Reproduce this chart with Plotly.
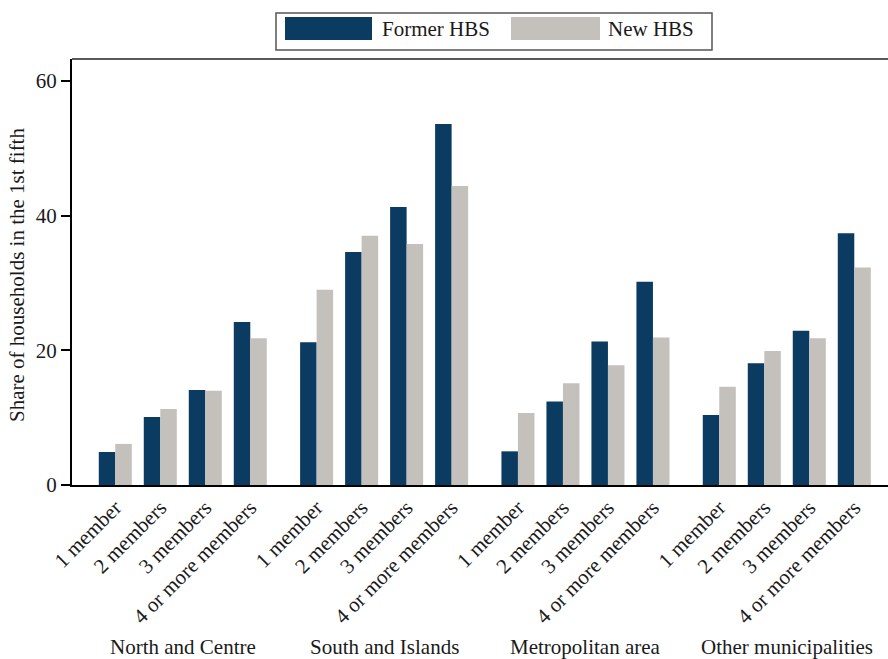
import plotly.graph_objects as go

# Share of households in the 1st fifth, by household size and area
regions = ["North and Centre", "South and Islands", "Metropolitan area", "Other municipalities"]
sizes = ["1 member", "2 members", "3 members", "4 or more members"]

former_north = [4.9, 10.1, 14.1, 24.2]
former_south = [21.2, 34.6, 41.3, 53.6]
former_metro = [5.0, 12.4, 21.3, 30.2]
former_other = [10.4, 18.1, 22.9, 37.4]

new_north = [6.1, 11.3, 14.0, 21.8]
new_south = [29.0, 37.0, 35.8, 44.4]
new_metro = [10.7, 15.1, 17.8, 21.9]
new_other = [14.6, 19.9, 21.8, 32.3]

y_ticks = [0, 20, 40, 60]

former_hbs = former_north + former_south + former_metro + former_other
new_hbs = new_north + new_south + new_metro + new_other

# ---- layout geometry ----
W, H = 888, 659
PLOT_L, PLOT_R, PLOT_T, PLOT_B = 72, 888, 59, 485
GROUP_GAP = 0.474      # extra space between regions (in pair units)
BAR_W = 0.367          # width of each bar (pair step = 1)
DARK = "#0b3b60"
GREY = "#c4c0bc"
FONT = "Liberation Serif"


def fx(px):
    return (px - PLOT_L) / (PLOT_R - PLOT_L)


def fy(py):
    return (PLOT_B - py) / (PLOT_B - PLOT_T)


positions = []
tick_text = []
for g, _ in enumerate(regions):
    for p, s in enumerate(sizes):
        positions.append(g * (len(sizes) + GROUP_GAP) + p)
        tick_text.append(s)

group_centres = [
    g * (len(sizes) + GROUP_GAP) + (len(sizes) - 1) / 2 for g in range(len(regions))
]

fig = go.Figure()
fig.add_trace(go.Bar(
    x=positions, y=former_hbs, name="Former HBS",
    width=BAR_W, offset=-BAR_W,
    marker=dict(color=DARK, line=dict(width=0)),
))
fig.add_trace(go.Bar(
    x=positions, y=new_hbs, name="New HBS",
    width=BAR_W, offset=0,
    marker=dict(color=GREY, line=dict(width=0)),
))

x_lo = -0.962
x_hi = x_lo + (PLOT_R - PLOT_L) / 45.0
y_hi = 60 * (PLOT_B - PLOT_T) / (PLOT_B - 81)

fig.update_layout(
    width=W, height=H,
    margin=dict(l=PLOT_L, r=W - PLOT_R, t=PLOT_T, b=H - PLOT_B, pad=0),
    paper_bgcolor="white", plot_bgcolor="white",
    barmode="overlay",
    showlegend=False,
    font=dict(family=FONT, size=21, color="#1a1a1a"),
    xaxis=dict(
        range=[x_lo, x_hi],
        tickmode="array", tickvals=positions, ticktext=tick_text,
        tickangle=-45, ticks="", showgrid=False, zeroline=False,
        showline=True, linecolor="black", linewidth=2,
        tickfont=dict(family=FONT, size=21, color="#1a1a1a"),
    ),
    yaxis=dict(
        range=[0, y_hi],
        tickmode="array", tickvals=y_ticks,
        ticks="outside", ticklen=9, tickwidth=1.5, tickcolor="black",
        showgrid=False, zeroline=False,
        showline=True, linecolor="black", linewidth=2,
        tickfont=dict(family=FONT, size=21, color="#1a1a1a"),
    ),
)

# top frame line of the plot region
fig.add_shape(type="line", xref="paper", yref="paper",
              x0=0, x1=1, y0=1, y1=1,
              line=dict(color="#5a5a5a", width=2))

# region labels under the rotated size labels
for name, xc in zip(regions, group_centres):
    fig.add_annotation(x=xc, xref="x", y=fy(647), yref="paper",
                       text=name, showarrow=False,
                       xanchor="center", yanchor="middle",
                       font=dict(family=FONT, size=21, color="#1a1a1a"))

# y axis title
fig.add_annotation(x=fx(17), xref="paper", y=fy(275), yref="paper",
                   text="Share of households in the 1st fifth",
                   textangle=-90, showarrow=False,
                   xanchor="center", yanchor="middle",
                   font=dict(family=FONT, size=21, color="#1a1a1a"))

# legend box with wide swatches
fig.add_shape(type="rect", xref="paper", yref="paper",
              x0=fx(276), x1=fx(712), y0=fy(50), y1=fy(13),
              line=dict(color="#555555", width=1.5), fillcolor="white")
for name, colour, sx0, sx1, tx in [("Former HBS", DARK, 285, 372, 380),
                                   ("New HBS", GREY, 511, 600, 606)]:
    fig.add_shape(type="rect", xref="paper", yref="paper",
                  x0=fx(sx0), x1=fx(sx1), y0=fy(40), y1=fy(17),
                  line=dict(width=0), fillcolor=colour)
    fig.add_annotation(x=fx(tx), xref="paper", y=fy(29), yref="paper",
                       text=name, showarrow=False,
                       xanchor="left", yanchor="middle",
                       font=dict(family=FONT, size=21, color="#1a1a1a"))

fig.write_html("out.html")
